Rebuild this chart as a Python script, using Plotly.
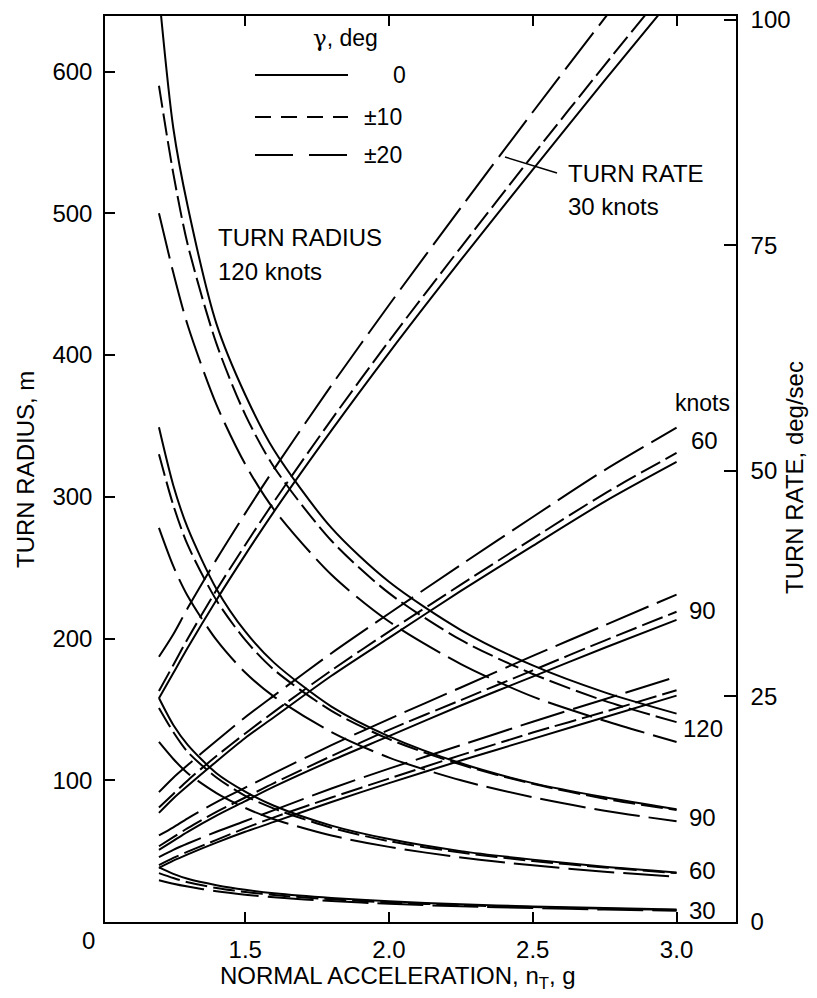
import plotly.graph_objects as go

# ---------------- data ----------------
n_T = [1.2, 1.25, 1.3, 1.4, 1.5, 1.6, 1.8, 2.0, 2.25, 2.5, 2.75, 3.0]

# Turn radius, m  (gamma = 0, +/-10, +/-20 deg)
radius_120_g0 = [655, 560, 505, 422, 372, 333, 278, 240, 206, 181, 162, 147]
radius_120_g10 = [590, 528, 478, 408, 358, 321, 269, 232, 199, 175, 156, 141]
radius_120_g20 = [500, 458, 421, 365, 323, 291, 245, 212, 182, 159, 142, 127]
radius_90_g0 = [349, 308, 278, 235, 205, 183, 152, 131, 112, 98, 88, 79.5]
radius_90_g10 = [330, 294, 266, 227, 199, 178, 149, 129, 111, 97.5, 87, 79]
radius_90_g20 = [278, 251, 230, 199, 176, 159, 134, 116, 100, 88, 78.5, 71]
radius_60_g0 = [158, 139, 125, 105, 92, 82, 68, 58.5, 50, 44, 39, 35]
radius_60_g10 = [151, 134, 120, 102, 89, 80, 66.5, 57, 49, 43, 38.5, 34.5]
radius_60_g20 = [127, 115, 105, 91, 80.5, 72.5, 61, 53, 45.5, 40, 35.5, 32]
radius_30_g0 = [38.5, 34, 30.5, 26, 22.7, 20.3, 17, 14.6, 12.5, 11, 9.8, 8.8]
radius_30_g10 = [34.5, 31, 28, 24, 21.2, 19, 16, 13.8, 11.9, 10.5, 9.4, 8.5]
radius_30_g20 = [29.5, 27, 25, 21.7, 19.3, 17.4, 14.8, 12.8, 11.1, 9.8, 8.8, 8.0]

# Turn rate, deg/sec
rate_30_g0 = [24.8, 27.6, 30.4, 35.7, 40.7, 45.5, 54.5, 63.1, 73.4, 83.4, 93.3, 103.0]
rate_30_g10 = [25.6, 28.5, 31.4, 36.8, 41.8, 46.6, 55.7, 64.4, 74.8, 85.0, 95.0, 104.8]
rate_30_g20 = [29.4, 31.9, 34.8, 40.2, 45.3, 50.2, 59.5, 68.4, 79.2, 89.8, 100.2, 110.4]
rate_60_g0 = [12.1, 13.7, 15.1, 17.8, 20.4, 22.7, 27.3, 31.5, 36.7, 41.7, 46.6, 51.0]
rate_60_g10 = [12.7, 14.2, 15.7, 18.4, 20.9, 23.3, 27.9, 32.2, 37.4, 42.5, 47.5, 52.0]
rate_60_g20 = [14.4, 16.0, 17.4, 20.1, 22.7, 25.1, 29.8, 34.2, 39.6, 44.9, 50.1, 54.8]
rate_90_g0 = [8.0, 9.0, 10.0, 11.8, 13.4, 15.0, 17.9, 20.6, 24.0, 27.2, 30.4, 33.5]
rate_90_g10 = [8.4, 9.4, 10.4, 12.2, 13.8, 15.4, 18.4, 21.3, 24.6, 27.9, 31.2, 34.4]
rate_90_g20 = [9.6, 10.5, 11.5, 13.3, 14.9, 16.5, 19.6, 22.5, 26.0, 29.5, 32.9, 36.3]
rate_120_g0 = [6.0, 6.8, 7.5, 8.8, 10.0, 11.1, 13.3, 15.4, 17.9, 20.3, 22.7, 25.1]
rate_120_g10 = [6.3, 7.1, 7.8, 9.1, 10.4, 11.6, 13.8, 15.9, 18.5, 21.0, 23.3, 25.7]
rate_120_g20 = [7.2, 8.0, 8.7, 10.0, 11.2, 12.4, 14.8, 17.0, 19.6, 22.2, 24.7, 27.2]

x_ticks = [1.5, 2.0, 2.5, 3.0]
x_tick_text = ["1.5", "2.0", "2.5", "3.0"]
y_ticks = [100, 200, 300, 400, 500, 600]
y2_ticks = [0, 25, 50, 75, 100]
speed_labels_right = ["60", "90", "120", "90", "60", "30"]
legend_labels = ["0", "±10", "±20"]

# ---------------- styling ----------------
FONT = "Liberation Sans, Arial, Helvetica, sans-serif"
DASH = {0: "solid", 10: "22px,6px", 20: "46px,9px"}
LEGEND_DASH = {0: "solid", 10: "16px,10px", 20: "38px,16px"}

PAGE_W, PAGE_H = 817, 998
BODY = 8                                  # default page margin around the figure
W, H = PAGE_W - 2 * BODY, PAGE_H - 2 * BODY
L, R, T, B = 105, 736, 16, 922            # plot area in page pixels


def paper(xpx, ypx):
    return (xpx - L) / (R - L), (B - ypx) / (B - T)


fig = go.Figure()

radius_sets = [
    (radius_120_g0, 0), (radius_120_g10, 10), (radius_120_g20, 20),
    (radius_90_g0, 0), (radius_90_g10, 10), (radius_90_g20, 20),
    (radius_60_g0, 0), (radius_60_g10, 10), (radius_60_g20, 20),
    (radius_30_g0, 0), (radius_30_g10, 10), (radius_30_g20, 20),
]
rate_sets = [
    (rate_30_g0, 0), (rate_30_g10, 10), (rate_30_g20, 20),
    (rate_60_g0, 0), (rate_60_g10, 10), (rate_60_g20, 20),
    (rate_90_g0, 0), (rate_90_g10, 10), (rate_90_g20, 20),
    (rate_120_g0, 0), (rate_120_g10, 10), (rate_120_g20, 20),
]

for vals, g in radius_sets:
    fig.add_trace(go.Scatter(x=n_T, y=vals, mode="lines", yaxis="y",
                             line=dict(color="black", width=2, dash=DASH[g], shape="spline", smoothing=0.8),
                             showlegend=False, hoverinfo="skip"))
for vals, g in rate_sets:
    fig.add_trace(go.Scatter(x=n_T, y=vals, mode="lines", yaxis="y2",
                             line=dict(color="black", width=2, dash=DASH[g], shape="spline", smoothing=0.8),
                             showlegend=False, hoverinfo="skip"))

tickfont = dict(family=FONT, size=24, color="black")

fig.update_layout(
    template="none",
    width=W, height=H,
    margin=dict(l=L - BODY, r=W - (R - BODY), t=T - BODY, b=H - (B - BODY), pad=0, autoexpand=False),
    paper_bgcolor="white", plot_bgcolor="white",
    showlegend=False,
    xaxis=dict(range=[1.0124, 3.2067], tickvals=x_ticks, ticktext=x_tick_text, automargin=False,
               ticks="inside", ticklen=10, tickwidth=1.5, tickcolor="black",
               showline=True, linecolor="black", linewidth=1.5, mirror="ticks",
               showgrid=False, zeroline=False, tickfont=tickfont, ticklabelstandoff=5),
    yaxis=dict(range=[0, 639.2], tickvals=y_ticks, automargin=False,
               ticks="inside", ticklen=10, tickwidth=1.5, tickcolor="black",
               showline=True, linecolor="black", linewidth=1.5,
               showgrid=False, zeroline=False, tickfont=tickfont, ticklabelstandoff=6),
    yaxis2=dict(range=[0, 100.44], tickvals=y2_ticks, overlaying="y", side="right", automargin=False,
                ticks="inside", ticklen=12, tickwidth=1.5, tickcolor="black",
                showline=True, linecolor="black", linewidth=1.5, ticklabeloverflow="allow",
                showgrid=False, zeroline=False, tickfont=tickfont, ticklabelstandoff=8),
)

annotations = []


def add_text(text, xpx, ypx, size=23, xanchor="center", angle=0, family=FONT):
    xp, yp = paper(xpx, ypx)
    annotations.append(dict(text=text, x=xp, y=yp, xref="paper", yref="paper",
                            xanchor=xanchor, yanchor="middle", showarrow=False,
                            textangle=angle, font=dict(family=family, size=size, color="black")))


# legend
add_text("γ<span style='font-family:Liberation Sans'>, deg</span>", 345, 38,
         family="DejaVu Serif, serif")
legend_pos = [(399, 75, 0), (383, 117, 10), (383, 155, 20)]
shapes = []
for lab, (tx, ty, g) in zip(legend_labels, legend_pos):
    add_text(lab, tx, ty)
    x0, y0 = paper(255, ty)
    x1, _ = paper(348, ty)
    shapes.append(dict(type="line", xref="paper", yref="paper", x0=x0, x1=x1, y0=y0, y1=y0,
                       line=dict(color="black", width=2, dash=LEGEND_DASH[g])))

add_text("TURN RADIUS", 216, 237, size=24, xanchor="left")
add_text("120 knots", 216, 271, size=24, xanchor="left")
add_text("TURN RATE", 566, 173, size=24, xanchor="left")
add_text("30 knots", 566, 207, size=24, xanchor="left")

# leader line to the 30-knot turn-rate curves
lx0, ly0 = paper(505, 157)
lx1, ly1 = paper(557, 173)
shapes.append(dict(type="line", xref="paper", yref="paper", x0=lx0, y0=ly0, x1=lx1, y1=ly1,
                   line=dict(color="black", width=1.5)))

add_text("knots", 732, 403, xanchor="right")
right_pos = [(704, 441), (702, 610), (703, 728), (702, 817), (702, 870), (702, 910)]
for lab, (tx, ty) in zip(speed_labels_right, right_pos):
    add_text(lab, tx, ty, size=24)

add_text("0", 88, 940, size=24)
add_text("NORMAL ACCELERATION, n<sub>T</sub>, g", 398, 977, size=24)
add_text("TURN RADIUS, m", 25, 470, size=24, angle=-90)
add_text("TURN RATE, deg/sec", 795, 478, size=24, angle=-90)

fig.update_layout(annotations=annotations, shapes=shapes)
fig.write_html("out.html")
